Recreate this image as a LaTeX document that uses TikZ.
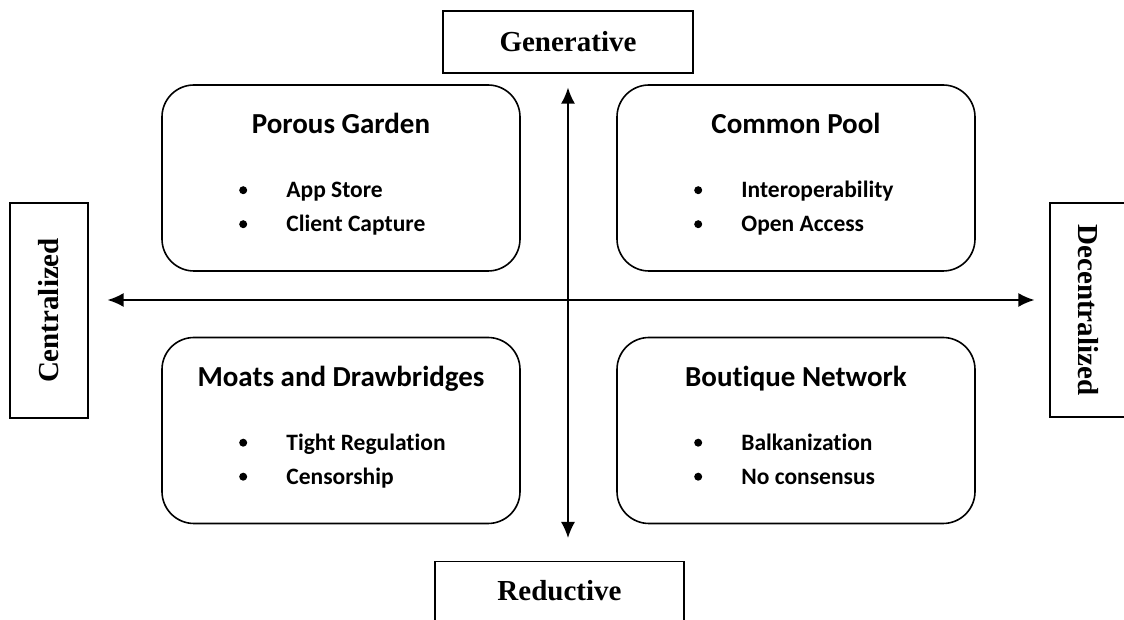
\documentclass[tikz,border=0pt]{standalone}
\usepackage{fontspec}
\setmainfont{Liberation Serif}
\newfontfamily\calibri[Ligatures=NoCommon]{Carlito}
\usetikzlibrary{positioning,arrows.meta}

\tikzset{
	axisbox/.style={draw, line width=1.3pt, inner sep=0pt, font=\fontsize{29}{34}\selectfont\bfseries},
	axisline/.style={line width=1.6pt},
	quadbox/.style={draw, line width=1.6pt, rounded corners=32pt, minimum width=358pt, minimum height=186pt},
	quadtitle/.style={inner sep=0pt, font=\calibri\fontsize{29}{34}\selectfont\bfseries, text height=19pt, text depth=0pt},
	quaditem/.style={anchor=west, inner sep=0pt, font=\calibri\fontsize{23.5}{28}\selectfont\bfseries, text height=15pt, text depth=0pt},
	dot/.style={circle, fill, inner sep=0pt, minimum size=8pt}
}

\begin{document}
\begin{tikzpicture}[x=1pt,y=1pt,>={Latex[length=16pt,width=14pt]}]
	% page frame, the side boxes run off the edge
	\useasboundingbox (-568,-320) rectangle (556,300);
	\clip (-568,-320) rectangle (556,300);
	\coordinate (o) at (0,0);

	% the four axis labels
	\node[axisbox, minimum width=250pt, minimum height=62pt] (gen) at (0,258) {Generative};
	\node[axisbox, anchor=north, minimum width=249pt, text height=39pt, text depth=40pt] (red) at (-8.5,-261) {Reductive};
	\node[axisbox, rotate=90, minimum width=215pt, minimum height=78pt] (cen) at (-519,-10.5) {Centralized};
	\node[axisbox, rotate=-90, minimum width=214pt, minimum height=76pt] (dec) at (520,-10) {Decentralized};

	% the axes
	\draw[<->, axisline, shorten <=19pt, shorten >=15pt] (cen.south |- o) -- (dec.south |- o);
	\draw[<->, axisline, shorten <=14pt, shorten >=23pt] (o |- gen.south) -- (o |- red.north);

	% the four quadrants
	\foreach \n/\x/\y/\title/\a/\b in {
		pg/-227/122/Porous Garden/App Store/Client Capture,
		cp/228/122/Common Pool/Interoperability/Open Access,
		md/-227/-130.5/Moats and Drawbridges/Tight Regulation/Censorship,
		bn/228/-130.5/Boutique Network/Balkanization/No consensus}
	{
		\node[quadbox] (\n) at (\x,\y) {};
		\node[quadtitle] (\n-t) at ([yshift=-40pt]\n.north) {\title};
		\node[dot] (\n-d1) at ([xshift=82pt,yshift=-106pt]\n.north west) {};
		\node[dot] (\n-d2) at ([xshift=82pt,yshift=-140pt]\n.north west) {};
		\node[quaditem] (\n-a) at ([xshift=125pt,yshift=-106pt]\n.north west) {\a};
		\node[quaditem] (\n-b) at ([xshift=125pt,yshift=-140pt]\n.north west) {\b};
	}
\end{tikzpicture}
\end{document}
